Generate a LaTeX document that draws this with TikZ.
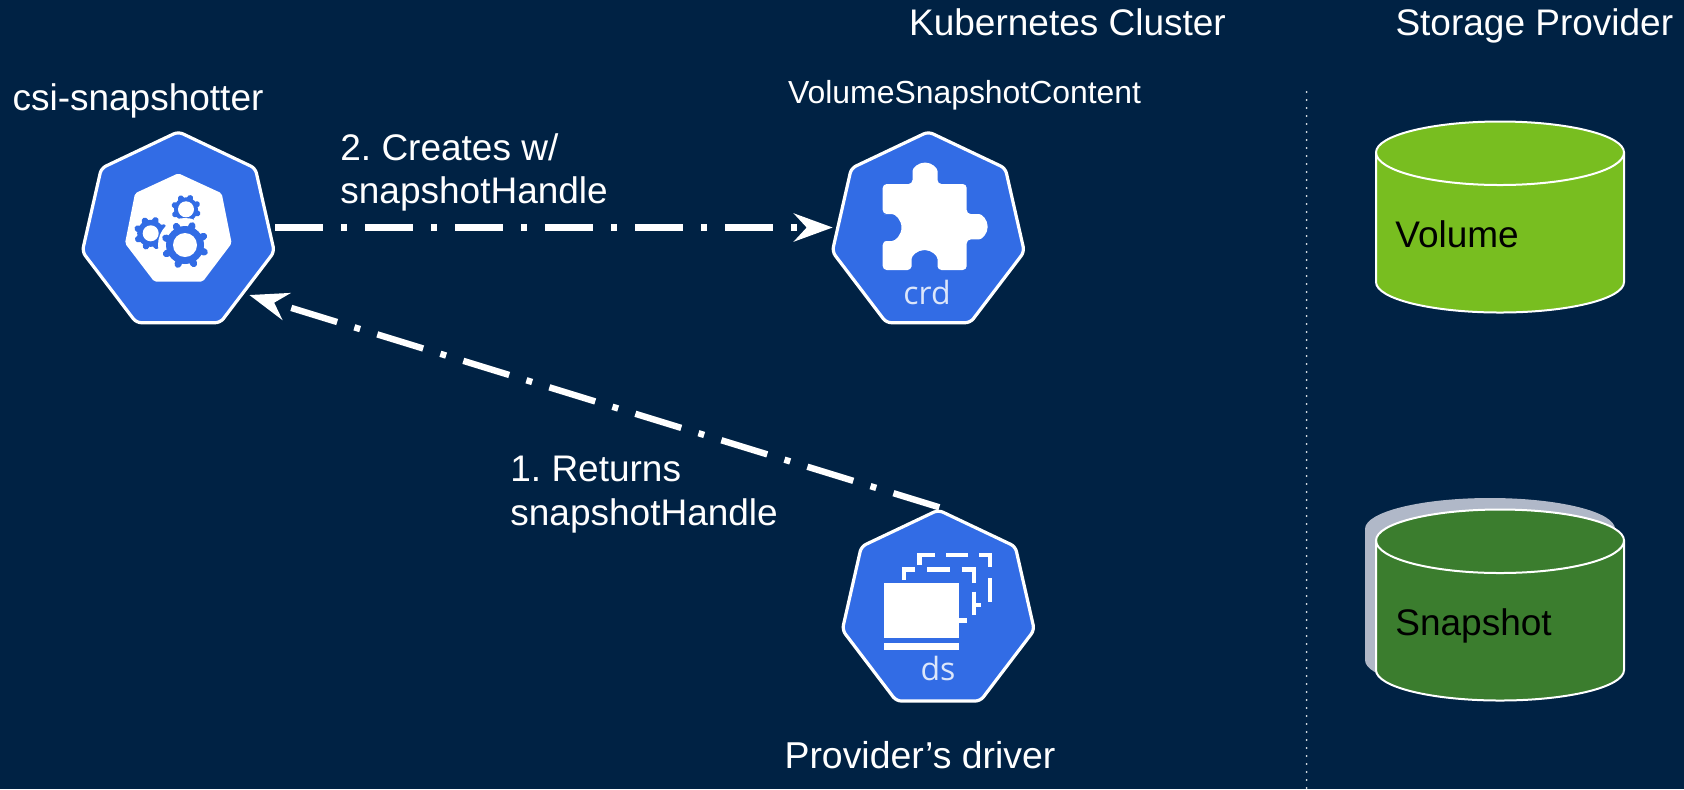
\documentclass[tikz,border=0pt]{standalone}
\usepackage{fontspec}
\setmainfont{Liberation Sans}
\newfontfamily\badgefont{Open Sans}
\usetikzlibrary{arrows.meta}
\definecolor{bgnavy}{HTML}{002244}
\definecolor{kblue}{HTML}{326CE5}
\definecolor{volgreen}{HTML}{78BE20}
\definecolor{snapgreen}{HTML}{3B7D2E}
\definecolor{backgray}{HTML}{B0B8C8}
\definecolor{badgetext}{HTML}{DCE6FA}
\tikzset{
  x=0.5pt,y=-0.5pt,
  heptagon/.style={draw=white,line width=1.6pt,fill=kblue,rounded corners=2.5pt,line join=round},
  lbl/.style={text=white,font=\fontsize{18.5}{21.8}\selectfont,inner sep=0pt,align=left},
  biglbl/.style={text=white,font=\fontsize{18.5}{22}\selectfont,inner sep=0pt,anchor=base},
  midlbl/.style={text=white,font=\fontsize{15.95}{19}\selectfont,inner sep=0pt},
  cyllbl/.style={text=black,font=\fontsize{18.5}{22}\selectfont,inner sep=0pt,anchor=west},
  badge/.style={text=badgetext,font=\badgefont\fontsize{16}{18}\selectfont,inner sep=0pt},
  flow/.style={draw=white,line width=3.2pt,dash pattern=on 24pt off 9pt on 3pt off 9pt,
    -{Stealth[length=19.3pt,width=13.9pt,inset=6.3pt,fill=white]}},
  whitebar/.style={draw=white,line width=2.2pt},
  solidwhite/.style={fill=white,draw=none},
}
\newcommand{\heptagonat}[2]{%
  \path[heptagon] (#1,#2) -- ++(77,36.5) -- ++(19,83.5) -- ++(-54,71) -- ++(-84,0) -- ++(-54,-71) -- ++(19,-83.5) -- cycle;}
\newcommand{\gearat}[6]{% x y outer body hole tooth-width
  \foreach \a in {0,45,...,315} {
    \draw[kblue,line width=#6*0.5pt,line cap=round] (#1,#2) -- ++(\a+20:#3-#6/2);
  }
  \fill[kblue] (#1,#2) circle[radius=#4];
  \fill[white] (#1,#2) circle[radius=#5];}
\newcommand{\cylinderat}[3]{% ellipse-centre y, fill, line
  \path[fill=#2,draw=#3,line width=1pt] (1376,#1) -- (1376,#1+129.5) arc[start angle=180,end angle=0,x radius=124,y radius=30.5] -- (1624,#1) arc[start angle=0,end angle=-180,x radius=124,y radius=31] -- cycle;
  \draw[draw=#3,line width=1pt] (1376,#1) arc[start angle=180,end angle=0,x radius=124,y radius=32.5];}
\begin{document}
\frenchspacing
\begin{tikzpicture}
\useasboundingbox (0,0) rectangle (1684,789);
\fill[bgnavy] (0,0) rectangle (1684,789);
% storage
\draw[white!90!bgnavy,line width=1pt,line cap=round,dash pattern=on 0pt off 4pt] (1306.7,92) -- (1306.7,789);
\path[fill=backgray] (1365,529) -- (1365,660) arc[start angle=180,end angle=0,x radius=125,y radius=31] -- (1615,529) arc[start angle=0,end angle=-180,x radius=125,y radius=31] -- cycle;
\cylinderat{152.5}{volgreen}{white}
\cylinderat{540.5}{snapgreen}{white}
\node[cyllbl] (vollbl) at (1395,234) {Volume};
\node[cyllbl] (snaplbl) at (1395,626) {Snapshot};
% headings
\node[biglbl] (kc) at (1067.5,35) {Kubernetes Cluster};
\node[biglbl] (sp) at (1534.3,35) {Storage Provider};
\node[lbl] (csilbl) at (138,101) {csi-snapshotter};
\node[midlbl] (vsc) at (964.6,95) {VolumeSnapshotContent};
\node[midlbl,font=\fontsize{18.7}{22}\selectfont] (drv) at (920,755) {Provider’s driver};
\node[lbl,anchor=west] (l2) at (340,172.5) {2. Creates w/\\snapshotHandle};
\node[lbl,anchor=west] (l1) at (510,494.7) {1. Returns\\snapshotHandle};
% csi badge
\heptagonat{178.3}{131.7}
\path[fill=white,rounded corners=1pt] (178.3,173.3) -- (221.7,193.3) -- (231.7,243.3) -- (202.7,281.7) -- (154.3,281.7) -- (125,243.3) -- (135,193.3) -- cycle;
\gearat{186}{209.3}{15}{12}{8}{6}
\gearat{150.7}{233.3}{17}{13.5}{8}{6.5}
\fill[white] (185,245) circle[radius=27];
\gearat{185}{245}{24}{19}{12}{7}
% crd badge
\heptagonat{928.3}{131.7}
\path[solidwhite,rounded corners=2pt] (882.7,184) -- (912.5,184) -- (912.5,175) arc[start angle=180,end angle=360,radius=12.5] -- (937.5,184) -- (966.7,184) -- (966.7,214) -- (975,214) arc[start angle=-90,end angle=90,radius=12.7] -- (966.7,239.4) -- (966.7,270) -- (937.5,270) -- (937.5,263) arc[start angle=0,end angle=-180,radius=13] -- (911.5,270) -- (882.7,270) -- (882.7,241) -- (888,241) arc[start angle=90,end angle=-90,radius=13.5] -- (882.7,214) -- cycle;
\node[badge] (crdtxt) at (927,292) {crd};
% ds badge
\heptagonat{938.3}{510}
\fill[white] (884,582.7) rectangle (959.3,638.3);
\fill[white] (884,643.3) rectangle (959.3,650);
\draw[whitebar] (903.7,580) -- (903.7,569.3) -- (915,569.3);
\draw[whitebar] (927.3,569.3) -- (950,569.3);
\draw[whitebar] (961.7,569.3) -- (973.7,569.3) -- (973.7,583.3);
\draw[whitebar] (973.7,591.7) -- (973.7,615);
\draw[whitebar] (959.3,620.3) -- (966.7,620.3);
\draw[whitebar] (919.3,565) -- (919.3,555) -- (935,555);
\draw[whitebar] (946,555) -- (968.3,555);
\draw[whitebar] (979.3,555) -- (989.7,555) -- (989.7,567.3);
\draw[whitebar] (989.7,578.3) -- (989.7,601.7);
\draw[whitebar] (976,605) -- (980.7,605);
\node[badge] (dstxt) at (938,668) {ds};
% connectors
\coordinate (csiout) at (275,227.5);
\coordinate (crdin) at (832.7,227.5);
\coordinate (dsout) at (939.3,507.3);
\coordinate (csiin) at (249.3,295);
\draw[flow] (csiout) -- (crdin);
\draw[flow] (dsout) -- (csiin);
\end{tikzpicture}
\end{document}
